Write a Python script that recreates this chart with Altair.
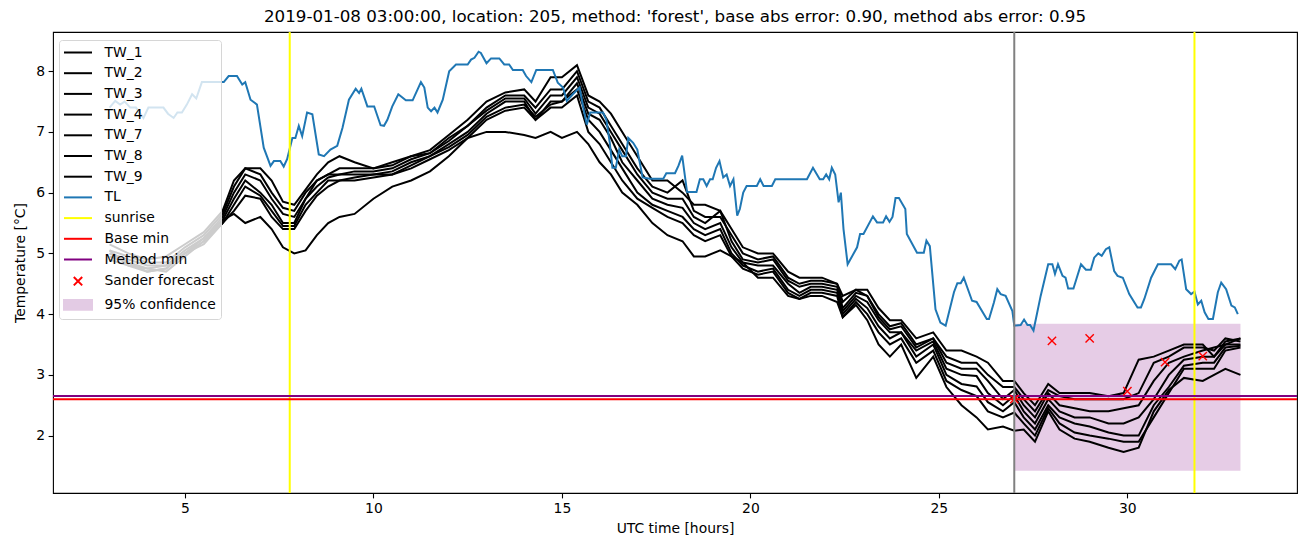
import altair as alt
import pandas as pd

# ---------------- data ----------------
TW_HOURS = [3.0, 3.5, 4.0, 4.5, 5.0, 5.5,
            6.0, 6.3, 6.6, 7.0, 7.3, 7.6, 7.9,
            8.2, 8.5, 8.8, 9.1, 9.5,
            10.0, 10.5, 11.0, 11.5, 12.0, 12.5, 13.0, 13.5, 14.0,
            14.3, 14.7, 15.0, 15.4, 15.7, 16.0, 16.3, 16.6,
            17.0, 17.4, 17.8, 18.2, 18.5, 18.8, 19.2, 19.5, 19.8,
            20.2, 20.6, 21.0, 21.3, 21.6, 21.9, 22.3, 22.45, 22.8,
            23.1, 23.4, 23.7, 24.0, 24.4, 24.85, 25.2, 25.6, 26.0,
            26.3, 26.7, 27.0, 27.25, 27.55, 27.9, 28.2, 28.6, 29.0,
            29.5, 29.9, 30.3, 30.7, 31.1, 31.5, 32.0, 32.3, 32.6, 33.0]

TW_1 = [5.15, 5.0, 4.9, 4.95, 5.15, 5.35,
        5.7, 6.2, 6.4, 6.4, 6.2, 5.85, 5.8,
        6.05, 6.3, 6.5, 6.6, 6.5,
        6.4, 6.45, 6.6, 6.7, 6.95, 7.2, 7.5, 7.65, 7.7,
        7.5, 7.9, 7.9, 8.1, 7.6, 7.5, 7.3, 7.0,
        6.6, 6.2, 6.2, 6.0, 5.8, 5.8, 5.7, 5.4, 5.1,
        5.0, 5.0, 4.7, 4.6, 4.6, 4.6, 4.5, 4.3, 4.4,
        4.4, 4.1, 3.9, 3.9, 3.6, 3.7, 3.4, 3.4, 3.3,
        3.2, 2.9, 2.9, 2.7, 2.5, 2.85, 2.7, 2.7, 2.7,
        2.65, 2.7, 3.25, 3.3, 3.4, 3.5, 3.5, 3.3, 3.55, 3.6]

TW_2 = [5.05, 4.95, 4.85, 4.85, 5.1, 5.3,
        5.65, 6.1, 6.4, 6.3, 6.0, 5.75, 5.7,
        6.0, 6.2, 6.3, 6.4, 6.4,
        6.4, 6.5, 6.6, 6.65, 6.9, 7.1, 7.4, 7.6, 7.6,
        7.4, 7.7, 7.7, 8.0, 7.5, 7.4, 7.1, 6.8,
        6.4, 6.1, 6.0, 6.2, 5.7, 5.6, 5.6, 5.3, 5.0,
        4.9, 4.95, 4.6, 4.5, 4.55, 4.55, 4.5, 4.2, 4.4,
        4.3, 4.0, 3.8, 3.85, 3.5, 3.6, 3.3, 3.2, 3.2,
        3.0, 2.8, 2.8, 2.6, 2.4, 2.75, 2.65, 2.6, 2.6,
        2.6, 2.6, 2.7, 3.2, 3.3, 3.45, 3.45, 3.4, 3.6, 3.55]

TW_3 = [5.0, 4.9, 4.8, 4.8, 5.05, 5.25,
        5.6, 6.0, 6.3, 6.2, 5.9, 5.65, 5.6,
        5.9, 6.2, 6.3, 6.3, 6.35,
        6.35, 6.4, 6.55, 6.65, 6.85, 7.1, 7.35, 7.55, 7.55,
        7.3, 7.6, 7.6, 7.9, 7.4, 7.3, 7.0, 6.7,
        6.3, 6.0, 5.9, 5.9, 5.6, 5.5, 5.7, 5.2, 4.9,
        4.85, 4.9, 4.55, 4.45, 4.5, 4.5, 4.45, 4.1, 4.35,
        4.3, 3.95, 3.75, 3.8, 3.45, 3.6, 3.2, 3.1, 3.1,
        2.9, 2.6, 2.75, 2.5, 2.3, 2.7, 2.5, 2.45, 2.4,
        2.4, 2.45, 2.5, 2.9, 3.2, 3.3, 3.4, 3.45, 3.5, 3.5]

TW_4 = [4.95, 4.85, 4.7, 4.75, 5.0, 5.2,
        5.55, 5.9, 6.2, 6.0, 5.8, 5.5, 5.5,
        5.9, 6.1, 6.25, 6.3, 6.3,
        6.3, 6.35, 6.5, 6.6, 6.8, 7.0, 7.3, 7.5, 7.5,
        7.2, 7.5, 7.5, 7.8, 7.3, 7.2, 6.9, 6.5,
        6.2, 5.9, 5.8, 5.75, 5.5, 5.4, 5.5, 5.1, 4.85,
        4.8, 4.8, 4.5, 4.35, 4.45, 4.45, 4.4, 4.05, 4.3,
        4.2, 3.9, 3.7, 3.7, 3.4, 3.55, 3.1, 3.0, 2.98,
        2.7, 2.5, 2.66, 2.4, 2.2, 2.6, 2.4, 2.3, 2.3,
        2.2, 2.2, 2.3, 2.6, 3.0, 3.25, 3.3, 3.3, 3.5, 3.6]

TW_7 = [4.9, 4.8, 4.75, 4.7, 4.95, 5.2,
        5.5, 5.8, 6.1, 5.95, 5.7, 5.45, 5.45,
        5.8, 6.0, 6.2, 6.2, 6.25,
        6.3, 6.3, 6.45, 6.6, 6.75, 6.95, 7.25, 7.4, 7.45,
        7.25, 7.45, 7.5, 7.7, 7.2, 7.0, 6.7, 6.4,
        6.0, 5.8, 5.7, 5.6, 5.4, 5.3, 5.4, 5.0, 4.8,
        4.7, 4.75, 4.4, 4.3, 4.4, 4.4, 4.35, 4.0, 4.25,
        4.1, 3.8, 3.6, 3.7, 3.3, 3.5, 3.0, 2.85, 2.81,
        2.55, 2.4, 2.55, 2.3, 2.1, 2.5, 2.3, 2.2, 2.15,
        2.05, 2.0, 2.0, 2.5, 2.8, 3.15, 3.2, 3.2, 3.45, 3.48]

TW_8 = [5.05, 4.8, 4.7, 4.75, 5.0, 5.15,
        5.5, 5.7, 5.95, 5.9, 5.6, 5.4, 5.4,
        5.7, 5.95, 6.1, 6.2, 6.2,
        6.25, 6.3, 6.4, 6.55, 6.7, 6.9, 7.2, 7.35, 7.4,
        7.2, 7.4, 7.4, 7.6, 7.0, 6.8, 6.5, 6.2,
        5.9, 5.75, 5.6, 5.5, 5.3, 5.2, 5.3, 4.95, 4.75,
        4.65, 4.7, 4.35, 4.25, 4.35, 4.35, 4.3, 3.95, 4.2,
        4.0, 3.7, 3.5, 3.6, 3.2, 3.4, 2.9, 2.75, 2.65,
        2.4, 2.3, 2.38, 2.2, 2.0, 2.45, 2.2, 2.05, 2.0,
        1.95, 1.9, 1.9, 2.3, 2.7, 3.1, 3.1, 3.1, 3.4, 3.45]

TW_9 = [5.0, 4.85, 4.75, 4.8, 5.0, 5.25,
        5.55, 5.65, 5.5, 5.6, 5.4, 5.1, 5.0,
        5.05, 5.3, 5.5, 5.6, 5.65,
        5.9, 6.1, 6.2, 6.35, 6.6, 6.9, 7.0, 7.0, 6.95,
        6.9, 7.0, 6.9, 7.0, 6.8, 6.5, 6.3, 6.0,
        5.8, 5.5, 5.3, 5.2, 4.95, 4.95, 5.05, 4.95, 4.85,
        4.6, 4.6, 4.3, 4.25, 4.3, 4.3, 4.2, 3.95, 4.15,
        3.9, 3.5, 3.3, 3.5, 2.95, 3.3, 2.8, 2.5, 2.3,
        2.1, 2.15, 2.08, 2.1, 1.9, 2.4, 2.1, 1.95, 1.9,
        1.8, 1.73, 1.8, 2.4, 2.75, 2.95, 2.9, 3.0, 3.1, 3.0]

TL_HOURS = [3.0, 3.15, 3.28, 3.4, 3.55, 3.7, 3.9, 4.03, 4.2, 4.43, 4.55, 4.7, 4.8, 4.92,
            5.05, 5.19, 5.3, 5.45, 6.03, 6.16, 6.38, 6.52, 6.6, 6.74, 6.91, 7.09, 7.27,
            7.36, 7.53, 7.62, 7.71, 7.85, 7.93, 8.02, 8.11, 8.24, 8.38, 8.55, 8.69, 8.86,
            9.04, 9.18, 9.35, 9.53, 9.62, 9.68, 9.84, 10.02, 10.19, 10.28, 10.37, 10.5,
            10.66, 10.86, 11.04, 11.26, 11.35, 11.44, 11.53, 11.62, 11.7, 11.84, 12.01,
            12.19, 12.5, 12.59, 12.68, 12.79, 12.85, 13.0, 13.12, 13.34, 13.47, 13.6, 13.7,
            13.96, 14.05, 14.19, 14.32, 14.76, 14.89, 15.03, 15.13, 15.29, 15.47, 15.56,
            15.66, 15.75, 16.09, 16.18, 16.27, 16.34, 16.43, 16.52, 16.6, 16.7, 16.76,
            16.89, 17.0, 17.14, 17.33, 17.69, 17.77, 18.0, 18.09, 18.19, 18.32, 18.57,
            18.66, 18.75, 18.84, 18.93, 19.0, 19.09, 19.18, 19.28, 19.37, 19.46, 19.55,
            19.65, 19.72, 19.81, 19.9, 20.17, 20.26, 20.35, 20.57, 20.66, 21.5, 21.66,
            21.84, 21.93, 22.01, 22.09, 22.16, 22.25, 22.34, 22.4, 22.47, 22.58, 22.83,
            22.91, 23.0, 23.25, 23.36, 23.52, 23.6, 23.69, 23.77, 23.85, 23.94, 24.11,
            24.15, 24.42, 24.6, 24.67, 24.76, 24.91, 25.04, 25.18, 25.4, 25.49, 25.58,
            25.66, 25.88, 26.0, 26.27, 26.33, 26.46, 26.55, 26.64, 26.77, 26.95, 27.0,
            27.17, 27.26, 27.35, 27.42, 27.51, 27.7, 27.9, 28.01, 28.08, 28.16, 28.28,
            28.36, 28.43, 28.57, 28.77, 28.9, 29.03, 29.12, 29.23, 29.32, 29.43, 29.52,
            29.65, 29.74, 29.88, 30.05, 30.27, 30.36, 30.45, 30.63, 30.72, 30.81, 31.16,
            31.27, 31.38, 31.44, 31.56, 31.69, 31.78, 31.87, 31.96, 32.05, 32.15, 32.27,
            32.4, 32.49, 32.62, 32.76, 32.85, 32.93]
TL_TEMPS = [7.40, 7.51, 7.45, 7.5, 7.4, 7.4, 7.23, 7.4, 7.4, 7.4, 7.3, 7.23, 7.32, 7.32,
            7.45, 7.62, 7.55, 7.82, 7.82, 7.92, 7.92, 7.78, 7.82, 7.53, 7.45, 6.74, 6.44,
            6.52, 6.52, 6.43, 6.55, 6.9, 6.9, 7.1, 6.93, 7.32, 7.29, 6.63, 6.6, 6.71,
            6.77, 7.07, 7.53, 7.71, 7.64, 7.71, 7.42, 7.42, 7.11, 7.1, 7.2, 7.42,
            7.62, 7.52, 7.52, 7.82, 7.73, 7.4, 7.34, 7.4, 7.32, 7.53, 8.0,
            8.11, 8.11, 8.19, 8.22, 8.32, 8.3, 8.13, 8.21, 8.21, 8.11, 8.11, 8.02,
            8.02, 7.92, 7.82, 8.02, 8.02, 7.81, 7.73, 7.51, 7.62, 7.73, 7.42,
            7.12, 7.32, 7.32, 7.2, 6.82, 6.41, 6.41, 6.71, 6.6, 6.6, 6.9,
            6.82, 6.71, 6.25, 6.23, 6.23, 6.32, 6.32, 6.44, 6.61, 6.01, 6.01,
            6.22, 6.22, 6.11, 6.22, 6.22, 6.41, 6.52, 6.25, 6.3, 6.11, 6.22,
            5.62, 5.73, 6.0, 6.11, 6.11, 6.22, 6.11, 6.11, 6.22, 6.22, 6.41,
            6.22, 6.22, 6.3, 6.22, 6.41, 6.3, 5.84, 6.0, 5.4, 4.82, 5.1,
            5.32, 5.32, 5.61, 5.51, 5.51, 5.61, 5.52, 5.6, 5.91, 5.91, 5.73,
            5.32, 5.01, 5.01, 5.21, 5.12, 4.08, 3.86, 3.81, 4.36, 4.51, 4.51,
            4.6, 4.22, 4.2, 3.92, 3.92, 4.19, 4.41, 4.33, 4.3, 4.05, 3.81,
            3.82, 3.91, 3.82, 3.82, 3.73, 4.3, 4.82, 4.82, 4.66, 4.82, 4.63,
            4.6, 4.42, 4.42, 4.82, 4.73, 4.73, 4.93, 5.0, 4.96, 5.07, 5.1,
            4.71, 4.63, 4.6, 4.33, 4.11, 4.11, 4.25, 4.6, 4.71, 4.82, 4.82,
            4.74, 4.88, 4.9, 4.41, 4.33, 4.37, 4.16, 4.22, 4.03, 3.92, 3.92,
            4.36, 4.52, 4.41, 4.14, 4.11, 4.0]

SUNRISE_HOURS = [7.78, 31.78]
FORECAST_START = [27.0]
BASE_MIN = [2.6]
METHOD_MIN = [2.65]
SANDER_HOURS = [27, 28, 29, 30, 31, 32]
SANDER_TEMPS = [2.6, 3.56, 3.6, 2.73, 3.21, 3.31]
CONF_HOURS = [27.0, 33.0]
CONF_TEMPS = [1.42, 3.84]

TW_NAMES = ["TW_1", "TW_2", "TW_3", "TW_4", "TW_7", "TW_8", "TW_9"]
TW_SERIES = [TW_1, TW_2, TW_3, TW_4, TW_7, TW_8, TW_9]

LEGEND_LABELS = TW_NAMES + ["TL", "sunrise", "Base min", "Method min",
                            "Sander forecast", "95% confidence"]

TITLE = ("2019-01-08 03:00:00, location: 205, method: 'forest', "
         "base abs error: 0.90, method abs error: 0.95")

# ---------------- styles ----------------
FONT = "DejaVu Sans"
BLUE = "#1f77b4"
CONF_COLOR = "#e3cbe4"
LINE_PATH = "M-2,0L2,0"
X_PATH = "M-0.6,-0.6L0.6,0.6M-0.6,0.6L0.6,-0.6"
RECT_PATH = "M-2,-0.7L2,-0.7L2,0.7L-2,0.7Z"
LEGEND_COLORS = ["black"] * 7 + [BLUE, "yellow", "red", "purple", "red", CONF_COLOR]
LEGEND_SHAPES = [LINE_PATH] * 11 + [X_PATH, RECT_PATH]

for s in TW_SERIES:
    assert len(s) == len(TW_HOURS)
assert len(TL_HOURS) == len(TL_TEMPS)

# ---------------- tables ----------------
tw_df = pd.DataFrame([
    {"series": n, "hour": h, "temp": t}
    for n, s in zip(TW_NAMES, TW_SERIES) for h, t in zip(TW_HOURS, s)
])
tl_df = pd.DataFrame({"hour": TL_HOURS, "temp": TL_TEMPS})
sun_df = pd.DataFrame({"hour": SUNRISE_HOURS})
now_df = pd.DataFrame({"hour": FORECAST_START})
base_df = pd.DataFrame({"temp": BASE_MIN})
meth_df = pd.DataFrame({"temp": METHOD_MIN})
sander_df = pd.DataFrame({"hour": SANDER_HOURS, "temp": SANDER_TEMPS})
conf_df = pd.DataFrame({"hour": [CONF_HOURS[0]], "hour2": [CONF_HOURS[1]],
                        "temp": [CONF_TEMPS[0]], "temp2": [CONF_TEMPS[1]]})
legend_df = pd.DataFrame({"label": LEGEND_LABELS})

XSCALE = alt.Scale(domain=[1.5, 34.5], nice=False, zero=False)
YSCALE = alt.Scale(domain=[1.055, 8.645], nice=False, zero=False)
XAXIS = alt.Axis(title="UTC time [hours]", values=[5, 10, 15, 20, 25, 30], format="d",
                 titlePadding=6)
YAXIS = alt.Axis(title="Temperature [°C]", values=[2, 3, 4, 5, 6, 7, 8], format="d",
                 titlePadding=8)


def X(f):
    return alt.X(f + ":Q", scale=XSCALE, axis=XAXIS)


def Y(f):
    return alt.Y(f + ":Q", scale=YSCALE, axis=YAXIS)


conf = alt.Chart(conf_df).mark_rect(color="purple", opacity=0.2).encode(
    x=X("hour"), x2="hour2", y=Y("temp"), y2="temp2")

tw = alt.Chart(tw_df).mark_line(strokeWidth=2, color="black").encode(
    x=X("hour"), y=Y("temp"), detail="series:N")

tl = alt.Chart(tl_df).mark_line(strokeWidth=2, color=BLUE).encode(
    x=X("hour"), y=Y("temp"))

sun = alt.Chart(sun_df).mark_rule(strokeWidth=2, color="yellow").encode(x=X("hour"))
now = alt.Chart(now_df).mark_rule(strokeWidth=2, color="gray").encode(x=X("hour"))
base = alt.Chart(base_df).mark_rule(strokeWidth=2, color="red").encode(y=Y("temp"))
meth = alt.Chart(meth_df).mark_rule(strokeWidth=2, color="purple").encode(y=Y("temp"))

sander = alt.Chart(sander_df).mark_point(
    shape="M-1,-1L1,1M-1,1L1,-1", size=69, filled=False, color="red",
    strokeWidth=1.4, opacity=1).encode(x=X("hour"), y=Y("temp"))

LEG = dict(title=None, orient="none", legendX=6, legendY=8,
           symbolSize=196, symbolStrokeWidth=2, symbolFillColor=CONF_COLOR,
           symbolOpacity=1,
           symbolOffset=6.5, labelOffset=18.5, rowPadding=5.7, padding=4.5,
           labelFont=FONT, labelFontSize=13.9, labelColor="black", labelLimit=0,
           fillColor="rgba(255,255,255,0.8)", strokeColor="#d6d6d6", cornerRadius=3)

legend_layer = alt.Chart(legend_df).transform_filter("false").mark_point(
    filled=False, fill=CONF_COLOR, strokeWidth=2, opacity=1).encode(
    color=alt.Color("label:N", scale=alt.Scale(domain=LEGEND_LABELS, range=LEGEND_COLORS),
                    legend=alt.Legend(**LEG)),
    shape=alt.Shape("label:N", scale=alt.Scale(domain=LEGEND_LABELS, range=LEGEND_SHAPES),
                    legend=alt.Legend(**LEG)),
)

chart = alt.layer(conf, tw, tl, sun, base, meth, sander, now, legend_layer).properties(
    width=1244, height=461,
    background="white",
    title=alt.TitleParams(TITLE, font=FONT, fontSize=16.7, fontWeight="normal",
                          color="black", anchor="middle", offset=5),
    padding={"left": 53, "top": 32, "right": 5, "bottom": 54},
    autosize=alt.AutoSizeParams(type="none"),
).configure_view(stroke="black", strokeWidth=1.1).configure_axis(
    labelFont=FONT, labelFontSize=13.9, labelColor="black",
    titleFont=FONT, titleFontSize=13.9, titleFontWeight="normal", titleColor="black",
    tickColor="black", tickSize=4.9, tickWidth=1.1, labelPadding=3.5,
    domain=False, grid=False,
)

chart.save("out.html", embed_options={"renderer": "svg", "actions": False})
